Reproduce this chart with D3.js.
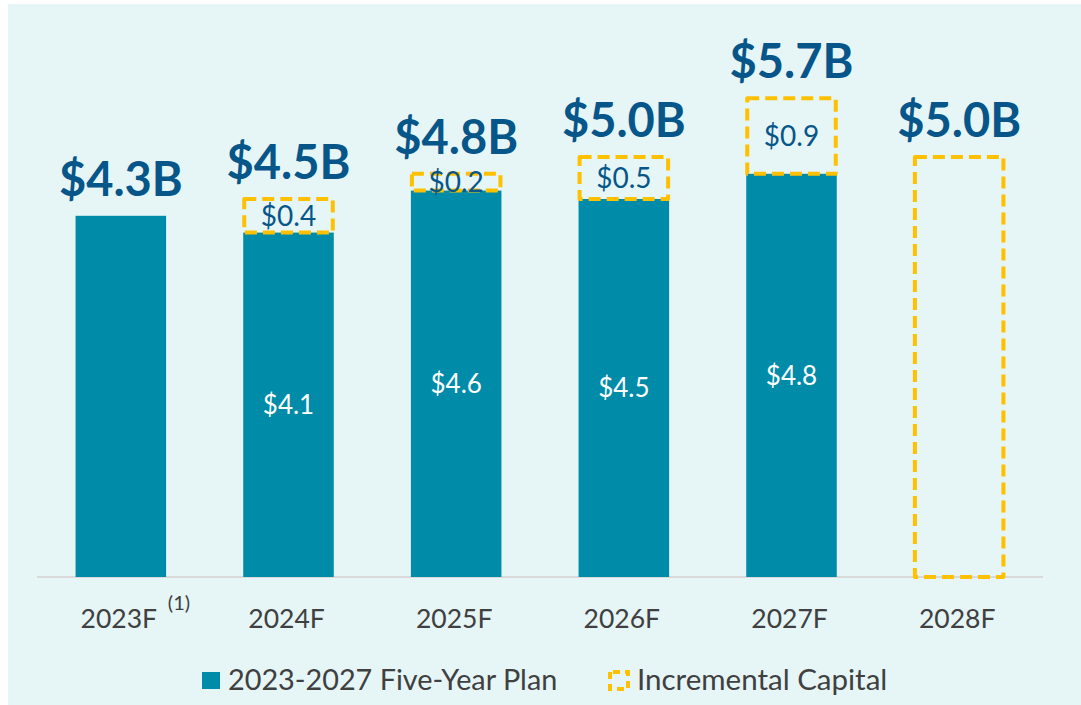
<!DOCTYPE html>
<html>
<head>
<meta charset="utf-8">
<script src="https://cdn.jsdelivr.net/npm/d3@7"></script>
<style>
  html, body { margin: 0; padding: 0; background: #ffffff; }
  svg { display: block; }
</style>
</head>
<body>
<svg id="chart" width="1081" height="705"></svg>
<script>
const categories = ["2023F", "2024F", "2025F", "2026F", "2027F", "2028F"];
const planValues = [4.3, 4.1, 4.6, 4.5, 4.8, 0];
const incrementalValues = [0, 0.4, 0.2, 0.5, 0.9, 5.0];
const totalLabels = ["$4.3B", "$4.5B", "$4.8B", "$5.0B", "$5.7B", "$5.0B"];
const planLabels = ["", "$4.1", "$4.6", "$4.5", "$4.8", ""];
const incrementalLabels = ["", "$0.4", "$0.2", "$0.5", "$0.9", ""];
const footnotes = ["(1)", "", "", "", "", ""];
const legendItems = ["2023-2027 Five-Year Plan", "Incremental Capital"];

const TEAL = "#008ba8", NAVY = "#06568a", GOLD = "#ffc000", GREY = "#404040";
const FONT = "Lato, 'Open Sans', sans-serif";

const svg = d3.select("#chart");
svg.append("rect").attr("x", 8).attr("y", 4).attr("width", 1073).attr("height", 701).attr("fill", "#e6f5f6");

const x = d3.scaleBand().domain(categories).range([37, 1043]).paddingInner(0.46).paddingOuter(0.23);
const y = d3.scaleLinear().domain([0, 5]).range([577, 157]);

// axis line
svg.append("line").attr("x1", 37).attr("x2", 1043).attr("y1", y(0)).attr("y2", y(0))
  .attr("stroke", "#d9d9d9").attr("stroke-width", 2);

const data = categories.map((c, i) => ({
  c, plan: planValues[i], inc: incrementalValues[i],
  total: totalLabels[i], pl: planLabels[i], il: incrementalLabels[i], fn: footnotes[i]
}));

const g = svg.append("g");
// plan bars
g.selectAll("rect.plan").data(data.filter(d => d.plan > 0)).join("rect")
  .attr("class", "plan")
  .attr("x", d => x(d.c)).attr("width", x.bandwidth())
  .attr("y", d => y(d.plan)).attr("height", d => y(0) - y(d.plan))
  .attr("fill", TEAL);

// incremental dashed boxes
g.selectAll("rect.inc").data(data.filter(d => d.inc > 0)).join("rect")
  .attr("class", "inc")
  .attr("x", d => x(d.c) + 1).attr("width", x.bandwidth() - 2)
  .attr("y", d => y(d.plan + d.inc)).attr("height", d => y(d.plan) - y(d.plan + d.inc))
  .attr("fill", "none").attr("stroke", GOLD).attr("stroke-width", 4)
  .attr("stroke-dasharray", "12 6").attr("stroke-linejoin", "round");

// plan labels
g.selectAll("text.pl").data(data.filter(d => d.pl)).join("text")
  .attr("x", d => x(d.c) + x.bandwidth() / 2)
  .attr("y", d => (y(0) + y(d.plan)) / 2)
  .attr("dy", "0.36em").attr("text-anchor", "middle")
  .attr("font-family", FONT).attr("font-size", 26).attr("fill", "#ffffff")
  .text(d => d.pl);

// incremental labels
g.selectAll("text.il").data(data.filter(d => d.il)).join("text")
  .attr("x", d => x(d.c) + x.bandwidth() / 2)
  .attr("y", d => (y(d.plan) + y(d.plan + d.inc)) / 2)
  .attr("dy", "0.36em").attr("text-anchor", "middle")
  .attr("font-family", FONT).attr("font-size", 28).attr("fill", NAVY)
  .text(d => d.il);

// totals
g.selectAll("text.total").data(data).join("text")
  .attr("x", d => x(d.c) + x.bandwidth() / 2)
  .attr("y", d => y(d.plan + d.inc) - 20)
  .attr("text-anchor", "middle")
  .attr("font-family", FONT).attr("font-weight", "bold").attr("font-size", 47).attr("fill", NAVY)
  .text(d => d.total);

// category labels
g.selectAll("text.cat").data(data).join("text")
  .attr("x", d => x(d.c) + x.bandwidth() / 2 - 2)
  .attr("y", 628)
  .attr("text-anchor", "middle")
  .attr("font-family", FONT).attr("font-size", 26.5).attr("fill", GREY)
  .text(d => d.c);
g.selectAll("text.fn").data(data.filter(d => d.fn)).join("text")
  .attr("x", d => x(d.c) + x.bandwidth() / 2 + 47)
  .attr("y", 610)
  .attr("font-family", FONT).attr("font-size", 20).attr("fill", GREY)
  .text(d => d.fn);

// legend
const lg = svg.append("g");
lg.append("rect").attr("x", 202).attr("y", 672).attr("width", 18).attr("height", 17).attr("fill", TEAL);
lg.append("text").attr("x", 228).attr("y", 690).attr("font-family", FONT).attr("font-size", 28.8)
  .attr("fill", GREY).text(legendItems[0]);
lg.append("rect").attr("x", 610).attr("y", 672).attr("width", 18).attr("height", 17)
  .attr("fill", "none").attr("stroke", GOLD).attr("stroke-width", 4).attr("stroke-dasharray", "7 5").attr("stroke-dashoffset", -3);
lg.append("text").attr("x", 637).attr("y", 690).attr("font-family", FONT).attr("font-size", 29.5)
  .attr("fill", GREY).text(legendItems[1]);
</script>
</body>
</html>
